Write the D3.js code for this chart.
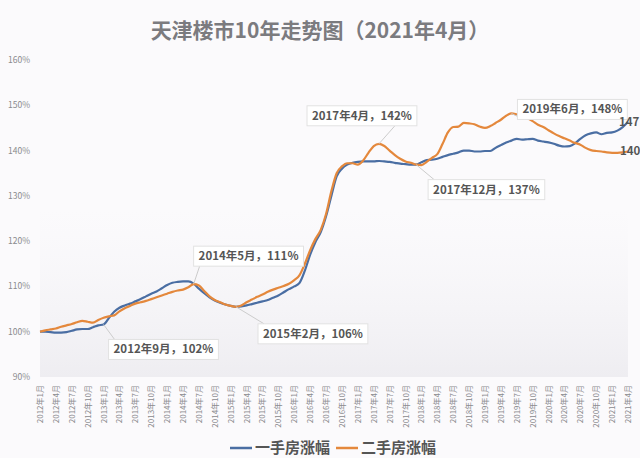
<!DOCTYPE html>
<html><head><meta charset="utf-8">
<script src="https://cdn.jsdelivr.net/npm/d3@7"></script>
<style>body{margin:0;background:#fbfafc;font-family:"Noto Sans CJK SC","Noto Sans",sans-serif}</style>
</head><body><div id="chart"></div>
<script>
const startYear = 2012, nMonths = 112;
const months = d3.range(nMonths).map(i => `${startYear + Math.floor(i / 12)}年${i % 12 + 1}月`);
const newHome = [100,100,99.9,99.8,99.8,99.9,100.2,100.5,100.6,100.6,101.0,101.4,101.6,103,104.4,105.3,105.8,106.2,106.7,107.2,107.8,108.4,108.9,109.6,110.3,110.8,111.0,111.1,111.1,110.6,109.5,108.5,107.6,106.9,106.4,106.0,105.7,105.5,105.6,105.8,106.1,106.4,106.7,107.0,107.5,108.0,108.7,109.4,110.0,110.8,113.5,117,119.8,122,125.5,130,134.3,136,136.9,137.3,137.5,137.6,137.6,137.6,137.7,137.6,137.5,137.3,137.1,137.0,136.9,136.9,137.4,137.9,138.0,138.2,138.6,139.0,139.3,139.6,140.0,140.0,139.8,139.8,139.9,139.9,140.6,141.2,141.8,142.2,142.6,142.4,142.5,142.6,142.2,142.0,141.8,141.5,141.1,140.9,141.0,141.6,142.6,143.4,143.8,144.0,143.6,143.9,144.0,144.4,145.2,146.3];
const secondHome = [100,100.3,100.5,100.7,101.1,101.4,101.7,102.1,102.4,102.2,102.0,102.6,103.1,103.4,103.6,104.5,105.2,105.7,106.2,106.5,106.8,107.2,107.6,108.0,108.4,108.8,109.1,109.3,109.8,110.5,110.2,109.0,107.8,107.0,106.5,106.0,105.7,105.5,105.8,106.5,107.1,107.7,108.2,108.8,109.3,109.7,110.1,110.6,111.4,112.5,115,118,120.5,122.5,126,131,135,136.5,137.2,137.2,136.9,137.8,139.5,141,141.5,141.0,140,139,138.2,137.6,137.3,136.9,136.8,137.5,138.4,139.2,141.5,144,145.2,145.3,146.1,146.0,145.8,145.3,145.0,145.4,146.1,146.8,147.7,148.2,148.0,147.7,147.2,146.5,145.7,145.2,144.5,143.8,143.2,142.7,142.2,141.7,141.3,140.6,140.1,139.9,139.8,139.6,139.5,139.5,139.6,139.8];
const yTicks = [90,100,110,120,130,140,150,160];
const seriesNames = ['一手房涨幅','二手房涨幅'];
const colors = ['#4a6ea3','#e4883c'];
// annotations: [series, month index, text, dx, dy] (box offset from point)
const notes = [
  [0, 12, '2012年9月，102%', 5, 15],
  [1, 29, '2014年5月，111%', 0, -38],
  [1, 37, '2015年2月，106%', 22, 17],
  [1, 64, '2017年4月，142%', -72, -38],
  [1, 71, '2017年12月，137%', 12, 15],
  [1, 89, '2019年6月，148%', 6, -14]
];

const W = 640, H = 458;
const m = {top: 60, left: 40, right: 12, bottom: 81};
const svg = d3.select('#chart').append('svg').attr('width', W).attr('height', H);

const x = d3.scaleLinear().domain([0, nMonths - 1]).range([m.left, W - m.right]);
const y = d3.scaleLinear().domain([90, 160]).range([H - m.bottom, m.top]);

const defs = svg.append('defs');
const grad = defs.append('linearGradient').attr('id', 'bg').attr('x1', 0).attr('x2', 0).attr('y1', 0).attr('y2', 1);
grad.append('stop').attr('offset', 0).attr('stop-color', '#f5f4f7').attr('stop-opacity', 0);
grad.append('stop').attr('offset', 1).attr('stop-color', '#eeedf1');
svg.append('rect').attr('x', m.left).attr('y', y(127)).attr('width', x(nMonths - 1) - m.left)
  .attr('height', y(90) - y(127)).attr('fill', 'url(#bg)');

svg.append('text').attr('x', W / 2).attr('y', 38).attr('text-anchor', 'middle')
  .attr('font-size', 21).attr('font-weight', 'bold').attr('fill', '#7b7b7f')
  .text('天津楼市10年走势图（2021年4月）');

// y axis labels
svg.append('g').selectAll('text').data(yTicks).join('text')
  .attr('x', 30).attr('y', d => y(d) + 3).attr('text-anchor', 'end')
  .attr('font-size', 8.5).attr('fill', '#8a8a8e').text(d => d + '%');

// x axis labels (quarterly)
const qIdx = d3.range(0, nMonths, 3);
svg.append('g').selectAll('text').data(qIdx).join('text')
  .attr('transform', d => `translate(${x(d) + 3},${y(90) + 8}) rotate(-90)`)
  .attr('text-anchor', 'end').attr('font-size', 8).attr('fill', '#8a8a8e')
  .text(d => months[d]);

const line = d3.line().x((d, i) => x(i)).y(d => y(d)).curve(d3.curveMonotoneX);
[newHome, secondHome].forEach((s, k) => {
  svg.append('path').datum(s).attr('d', line).attr('fill', 'none')
    .attr('stroke', colors[k]).attr('stroke-width', 2.2);
});

// annotations
const series = [newHome, secondHome];
notes.forEach(([k, i, t, dx, dy]) => {
  const px = x(i), py = y(series[k][i]);
  const g = svg.append('g');
  const txt = g.append('text').attr('font-size', 11.5).attr('font-weight', 'bold')
    .attr('fill', '#555').text(t);
  const bw = txt.node().getComputedTextLength() + 10, bh = 20;
  const bx = px + dx, by = py + dy;
  g.insert('line', 'text').attr('x1', px).attr('y1', py)
    .attr('x2', bx + (dx < 0 ? bw * 0.8 : 6)).attr('y2', dy < 0 ? by + bh : by)
    .attr('stroke', '#ccc').attr('stroke-width', 1);
  g.insert('rect', 'text').attr('x', bx).attr('y', by).attr('width', bw).attr('height', bh)
    .attr('fill', '#fff').attr('stroke', '#e2e2e2');
  txt.attr('x', bx + 5).attr('y', by + 14);
});

// end labels
svg.append('text').attr('x', x(nMonths - 1) - 9).attr('y', y(newHome[nMonths - 1]) + 4)
  .attr('font-size', 11.5).attr('font-weight', 'bold').attr('fill', '#555').text('147');
svg.append('text').attr('x', x(nMonths - 1) - 8).attr('y', y(secondHome[nMonths - 1]) + 4)
  .attr('font-size', 11.5).attr('font-weight', 'bold').attr('fill', '#555').text('140');

// legend
const lg = svg.append('g').attr('transform', 'translate(230,448)');
seriesNames.forEach((n, k) => {
  const ox = k * 106;
  lg.append('line').attr('x1', ox).attr('x2', ox + 22).attr('y1', 0).attr('y2', 0)
    .attr('stroke', colors[k]).attr('stroke-width', 2.5);
  lg.append('text').attr('x', ox + 25).attr('y', 5).attr('font-size', 15).attr('font-weight', 'bold')
    .attr('fill', '#555').text(n);
});
</script></body></html>
